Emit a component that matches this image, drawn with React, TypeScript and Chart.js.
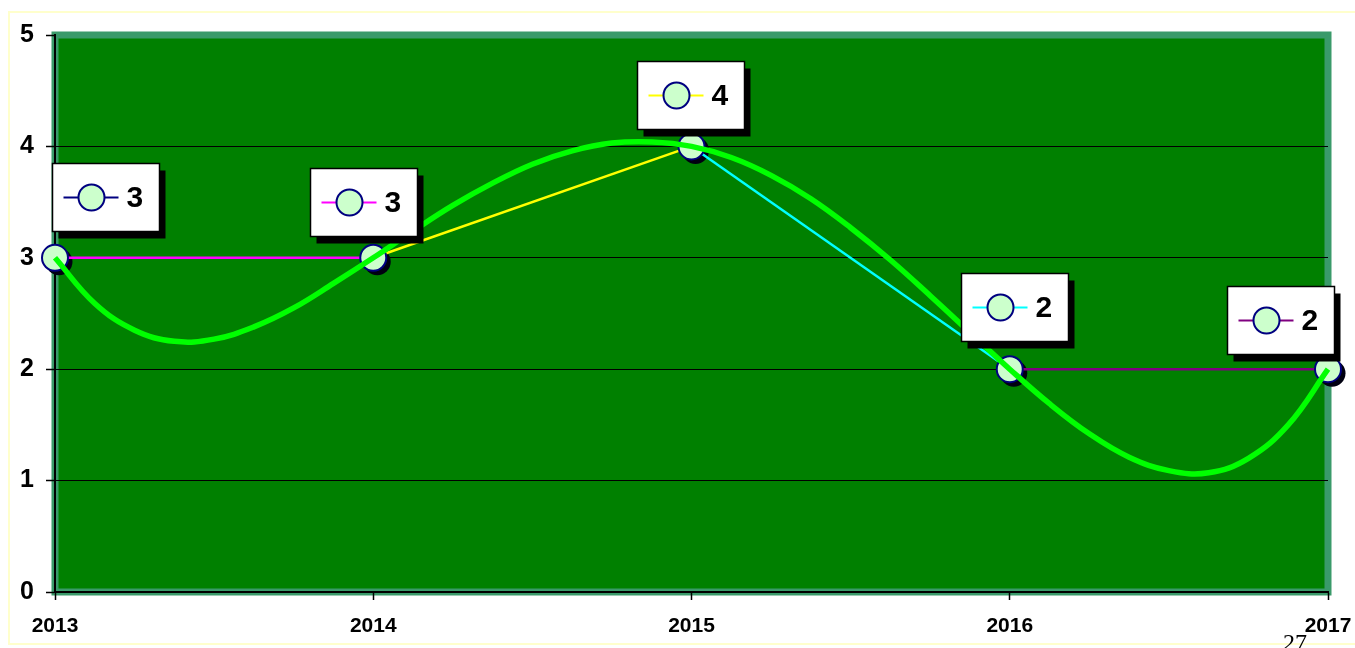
import React, { useEffect, useRef } from "react";
import { Chart, registerables } from "chart.js";

Chart.register(...registerables);

// ---- data ----
const years = [2013, 2014, 2015, 2016, 2017];
const xTickLabels = ["2013", "2014", "2015", "2016", "2017"];
const values = [3, 3, 4, 2, 2];
const dataLabels = ["3", "3", "4", "2", "2"];
// trendline (smooth curve), every eighth of a year
const trendYears = [
  2013, 2013.125, 2013.25, 2013.375, 2013.5, 2013.625, 2013.75, 2013.875,
  2014, 2014.125, 2014.25, 2014.375, 2014.5, 2014.625, 2014.75, 2014.875,
  2015, 2015.125, 2015.25, 2015.375, 2015.5, 2015.625, 2015.75, 2015.875,
  2016, 2016.125, 2016.25, 2016.375, 2016.5, 2016.625, 2016.75, 2016.875,
  2017,
];
const trendValues = [
  3, 2.59, 2.35, 2.25, 2.27, 2.38, 2.55, 2.77,
  3, 3.24, 3.47, 3.67, 3.84, 3.96, 4.03, 4.04,
  4, 3.9, 3.74, 3.53, 3.27, 2.98, 2.66, 2.33,
  2, 1.69, 1.42, 1.21, 1.09, 1.07, 1.2, 1.5,
  2,
];
const yTicks = [0, 1, 2, 3, 4, 5];

// ---- styles ----
const segmentColors = ["#ff00ff", "#ffff00", "#00ffff", "#800080"];
const keyColors = ["#000080", "#ff00ff", "#ffff00", "#00ffff", "#800080"];
const labelOffsets = [
  [-3, -95],
  [-63, -90],
  [-55, -85],
  [-49, -96],
  [-101, -83],
];
const FONT = "Arial, 'Liberation Sans', sans-serif";

const backgroundPlugin = {
  id: "bgPlot",
  beforeDraw(chart: any) {
    const ctx = chart.ctx;
    const { left, top, right, bottom } = chart.chartArea;
    ctx.save();
    ctx.fillStyle = "#ffffff";
    ctx.fillRect(0, 0, chart.width, chart.height);
    ctx.strokeStyle = "#ffffcc";
    ctx.lineWidth = 2;
    ctx.strokeRect(9, 12, 1360, 632);
    ctx.fillStyle = "#008000";
    ctx.fillRect(left, top, right - left, bottom - top);
    ctx.strokeStyle = "#3a9a6a";
    ctx.lineWidth = 7;
    ctx.strokeRect(left, top, right - left, bottom - top);
    ctx.restore();
  },
  beforeDatasetsDraw(chart: any) {
    const ctx = chart.ctx;
    const meta = chart.getDatasetMeta(1);
    ctx.save();
    ctx.fillStyle = "#000010";
    meta.data.forEach((pt: any) => {
      ctx.beginPath();
      ctx.arc(pt.x + 4, pt.y + 4, 13.5, 0, Math.PI * 2);
      ctx.fill();
    });
    ctx.restore();
  },
};

const labelPlugin = {
  id: "boxLabels",
  afterDatasetsDraw(chart: any) {
    const ctx = chart.ctx;
    const meta = chart.getDatasetMeta(1);
    const w = 107;
    const h = 68;
    ctx.save();
    meta.data.forEach((pt: any, i: number) => {
      const bx = Math.round(pt.x + labelOffsets[i][0]) + 0.5;
      const by = Math.round(pt.y + labelOffsets[i][1]) + 0.5;
      ctx.fillStyle = "#000000";
      ctx.fillRect(bx + 6, by + 7, w, h);
      ctx.fillStyle = "#ffffff";
      ctx.fillRect(bx, by, w, h);
      ctx.strokeStyle = "#000000";
      ctx.lineWidth = 1.5;
      ctx.strokeRect(bx, by, w, h);
      const cy = by + h / 2;
      ctx.strokeStyle = keyColors[i];
      ctx.lineWidth = 2;
      ctx.beginPath();
      ctx.moveTo(bx + 11, cy);
      ctx.lineTo(bx + 66, cy);
      ctx.stroke();
      ctx.beginPath();
      ctx.arc(bx + 39, cy, 13, 0, Math.PI * 2);
      ctx.fillStyle = "#ccffcc";
      ctx.fill();
      ctx.strokeStyle = "#000080";
      ctx.lineWidth = 2;
      ctx.stroke();
      ctx.fillStyle = "#000000";
      ctx.font = `bold 30px ${FONT}`;
      ctx.textAlign = "left";
      ctx.textBaseline = "middle";
      ctx.fillText(dataLabels[i], bx + 74, cy + 1);
    });
    ctx.restore();
  },
};

export default function App() {
  const canvasRef = useRef<HTMLCanvasElement | null>(null);

  useEffect(() => {
    if (!canvasRef.current) return;
    const chart = new Chart(canvasRef.current, {
      type: "line",
      data: {
        datasets: [
          {
            label: "trend",
            data: trendYears.map((x, i) => ({ x, y: trendValues[i] })),
            borderColor: "#00ff00",
            borderWidth: 5.5,
            pointRadius: 0,
            tension: 0.4,
            fill: false,
            clip: false,
            order: 0,
          },
          {
            label: "values",
            data: years.map((x, i) => ({ x, y: values[i] })),
            borderWidth: 2.5,
            borderColor: "#ff00ff",
            segment: {
              borderColor: (c: any) => segmentColors[c.p0DataIndex],
            },
            pointRadius: 13,
            pointBackgroundColor: "#ccffcc",
            pointBorderColor: "#000080",
            pointBorderWidth: 2,
            tension: 0,
            fill: false,
            clip: false,
            order: 1,
          },
        ],
      } as any,
      options: {
        responsive: false,
        animation: false,
        events: [],
        layout: { padding: { left: 0, top: 35, right: 27, bottom: 0 } },
        plugins: {
          legend: { display: false },
          tooltip: { enabled: false },
          title: { display: false },
        },
        scales: {
          x: {
            type: "linear",
            min: years[0],
            max: years[years.length - 1],
            afterFit: (s: any) => {
              s.height = 56;
              s.paddingLeft = 0;
              s.paddingRight = 0;
            },
            afterBuildTicks: (s: any) => {
              s.ticks = years.map((v) => ({ value: v }));
            },
            ticks: {
              callback: (_v: any, i: number) => xTickLabels[i],
              color: "#000000",
              font: { family: FONT, size: 21, weight: "bold" },
              padding: 14,
              maxRotation: 0,
              autoSkip: false,
            },
            grid: {
              drawOnChartArea: false,
              drawTicks: true,
              tickLength: 8,
              tickColor: "#000000",
              tickWidth: 1.5,
            },
            border: { display: true, color: "#000000", width: 2 },
          },
          y: {
            min: 0,
            max: 5,
            afterFit: (s: any) => {
              s.width = 55;
              s.paddingTop = 0;
              s.paddingBottom = 0;
            },
            afterBuildTicks: (s: any) => {
              s.ticks = yTicks.map((v) => ({ value: v }));
            },
            ticks: {
              callback: (v: any) => String(v),
              color: "#000000",
              font: { family: FONT, size: 25, weight: "bold" },
              padding: 12,
            },
            grid: {
              color: (c: any) =>
                c.tick && (c.tick.value === 5 || c.tick.value === 0) ? "rgba(0,0,0,0)" : "#000000",
              lineWidth: 1,
              tickLength: 9,
              tickColor: "#000000",
              tickWidth: 1.5,
            },
            border: { display: true, color: "#000000", width: 2 },
          },
        },
      } as any,
      plugins: [backgroundPlugin, labelPlugin],
    });
    return () => chart.destroy();
  }, []);

  return (
    <div style={{ position: "absolute", left: 0, top: 0, width: 1355, height: 648, overflow: "hidden", background: "#ffffff" }}>
      <canvas ref={canvasRef} width={1355} height={648} style={{ width: 1355, height: 648, display: "block" }} />
      <div
        style={{
          position: "absolute",
          left: 1283,
          top: 630,
          fontFamily: "'Times New Roman', 'Liberation Serif', serif",
          fontSize: 24,
          lineHeight: 1,
          color: "#000000",
        }}
      >
        27
      </div>
    </div>
  );
}
